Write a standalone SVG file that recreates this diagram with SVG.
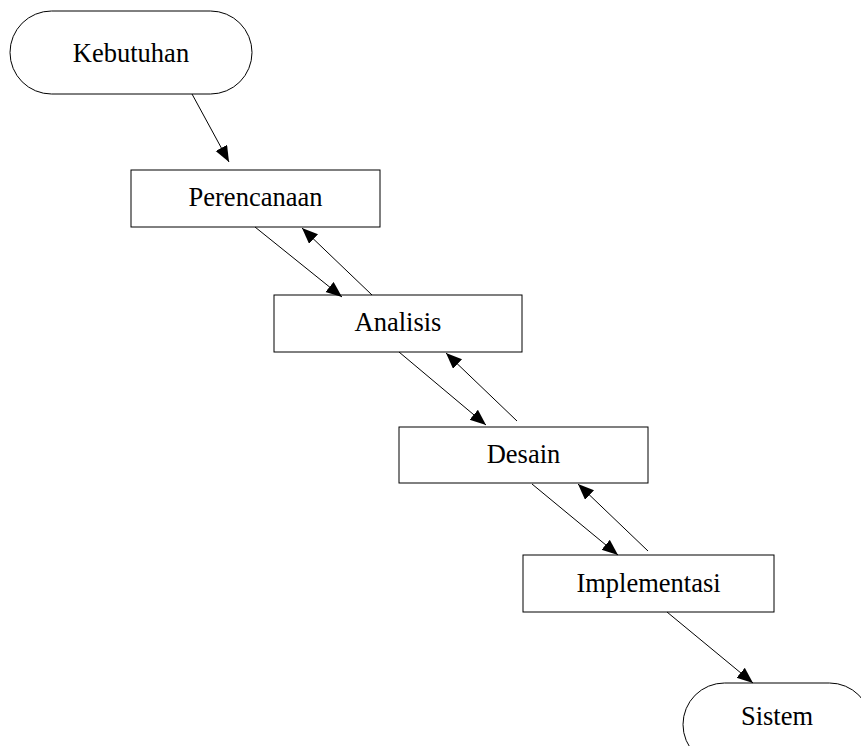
<svg xmlns="http://www.w3.org/2000/svg" width="861" height="746" viewBox="0 0 861 746">
  <style>
    .shape { fill: #ffffff; stroke: #000000; stroke-width: 1; }
    .label { font-family: "Liberation Serif", "Times New Roman", serif; font-size: 26.5px; fill: #000000; text-anchor: middle; }
    .edge { fill: none; stroke: #000000; stroke-width: 1; marker-end: url(#arrow); }
  </style>
  <defs>
    <marker id="arrow" markerUnits="userSpaceOnUse" markerWidth="17" markerHeight="14" refX="16" refY="6.5" orient="auto">
      <path d="M0,0 L16,6.5 L0,13 z" fill="#000000"/>
    </marker>
  </defs>
  <rect width="861" height="746" fill="#ffffff"/>

  <g id="kebutuhan">
    <rect class="shape" x="10" y="11" width="242" height="83" rx="41.5" ry="41.5"/>
    <text class="label" x="131" y="62">Kebutuhan</text>
  </g>

  <g id="perencanaan">
    <rect class="shape" x="131" y="170" width="249" height="57"/>
    <text class="label" x="255.5" y="206">Perencanaan</text>
  </g>

  <g id="analisis">
    <rect class="shape" x="274" y="295" width="248" height="57"/>
    <text class="label" x="398" y="331">Analisis</text>
  </g>

  <g id="desain">
    <rect class="shape" x="399" y="427" width="249" height="56"/>
    <text class="label" x="523.5" y="463">Desain</text>
  </g>

  <g id="implementasi">
    <rect class="shape" x="523" y="555" width="251" height="57"/>
    <text class="label" x="648.5" y="592">Implementasi</text>
  </g>

  <g id="sistem">
    <rect class="shape" x="683" y="683" width="188" height="83" rx="41.5" ry="41.5"/>
    <text class="label" x="777" y="725">Sistem</text>
  </g>

  <g id="connectors">
    <line class="edge" x1="192" y1="94" x2="229" y2="162"/>
    <line class="edge" x1="255" y1="227" x2="342" y2="297"/>
    <line class="edge" x1="372" y1="295" x2="302" y2="228"/>
    <line class="edge" x1="399" y1="352" x2="486" y2="425"/>
    <line class="edge" x1="517" y1="421" x2="446" y2="353"/>
    <line class="edge" x1="532" y1="484" x2="618" y2="555"/>
    <line class="edge" x1="648" y1="551" x2="578" y2="484"/>
    <line class="edge" x1="667" y1="612" x2="753" y2="683"/>
  </g>
</svg>
